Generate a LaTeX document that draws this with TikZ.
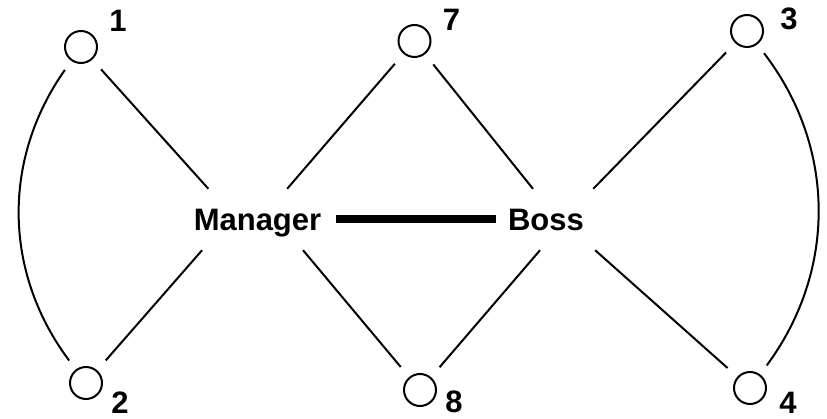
\documentclass[tikz,border=0pt]{standalone}
\usepackage{fontspec}
\setmainfont{Liberation Sans}
\begin{document}
\begin{tikzpicture}[x=1pt,y=-1pt,
  member/.style={circle,draw,line width=2pt,minimum size=32pt,inner sep=0pt},
  tag/.style={inner sep=0pt,font=\fontsize{31}{36}\selectfont\bfseries},
  role/.style={inner sep=0pt,minimum height=61pt,text height=22pt,text depth=0pt,
    font=\fontsize{31}{36}\selectfont\bfseries},
  link/.style={line width=2pt,shorten <=13pt},
  tie/.style={line width=2pt,shorten <=11pt,shorten >=11pt}]
\useasboundingbox (0,0) rectangle (827,419);

% people around the two roles
\node[member] (c1) at (81,47) {};
\node[member] (c2) at (86,383) {};
\node[member] (c7) at (414.5,41) {};
\node[member] (c8) at (420,390) {};
\node[member] (c3) at (747,31) {};
\node[member] (c4) at (750,388) {};

\node[tag] (l1) at (118,21) {1};
\node[tag] (l2) at (120,403) {2};
\node[tag] (l7) at (451.5,19.5) {7};
\node[tag] (l8) at (454,402) {8};
\node[tag] (l3) at (789,18.5) {3};
\node[tag] (l4) at (788,403) {4};

% the two roles
\node[role,minimum width=128pt] (mgr) at (257.5,219.5) {Manager};
\node[role,minimum width=100pt] (boss) at (546,219.5) {Boss};

% links to the roles
\draw[link] (c1) -- (mgr.148);
\draw[link] (c2) -- (mgr.209);
\draw[link] (c7) -- (mgr.46);
\draw[link] (c8) -- (mgr.326);
\draw[link] (c7) -- (boss.113);
\draw[link] (c8) -- (boss.259);
\draw[link] (c3) -- (boss.33.5);
\draw[link] (c4) -- (boss.328);

% outer arcs
\draw[tie] (c1) to[bend right=36] (c2);
\draw[tie] (c3) to[bend left=37] (c4);

% strong tie between the roles
\draw[line width=8pt,shorten <=14.5pt] (mgr) -- (boss);
\end{tikzpicture}
\end{document}
